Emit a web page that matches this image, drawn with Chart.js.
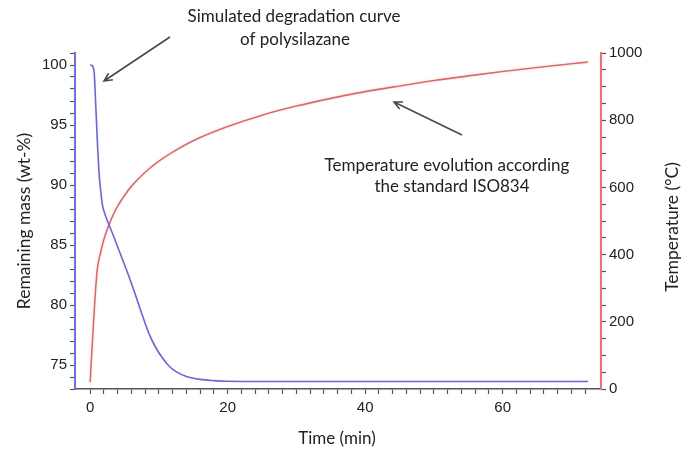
<!DOCTYPE html>
<html>
<head>
<meta charset="utf-8">
<script src="https://cdn.jsdelivr.net/npm/chart.js@4.4.1/dist/chart.umd.min.js"></script>
<style>
  html, body { margin: 0; padding: 0; background: #fff; }
  #wrap { width: 694px; height: 455px; }
</style>
</head>
<body>
<div id="wrap"><canvas id="tgaChart" width="694" height="455"></canvas></div>
<script>
// mass loss of the polysilazane (wt-%) against time (min)
const massTime = [0, 0.3, 0.5, 0.6, 0.8, 1.0, 1.3, 1.6, 1.8, 2.2, 2.8, 3.5, 4.5, 5.5, 6.5, 7.5, 8.5, 9.5, 10.5, 11.5, 12.5, 14, 16, 18, 20, 25, 30, 40, 50, 60, 72.4];
const massValues = [100, 99.95, 99.7, 99.3, 96.9, 94.3, 91.0, 89.2, 88.3, 87.5, 86.6, 85.6, 84.1, 82.6, 81.0, 79.3, 77.7, 76.5, 75.6, 74.9, 74.45, 74.05, 73.8, 73.7, 73.65, 73.63, 73.63, 73.63, 73.63, 73.63, 73.63];

// furnace temperature (°C) against time (min)
const tempTime = [0, 0.5, 1, 1.5, 2, 3, 4, 5, 6, 8, 10, 12, 15, 20, 25, 30, 35, 40, 45, 50, 55, 60, 65, 70, 72.4];
const tempValues = [20, 200, 349, 404, 445, 502, 544, 576, 603, 645, 678, 705, 739, 781, 815, 842, 865, 885, 902, 918, 932, 945, 957, 968, 973];

const timeLabels = [0, 20, 40, 60];
const massLabels = [75, 80, 85, 90, 95, 100];
const tempLabels = [0, 200, 400, 600, 800, 1000];

const BLUE = '#6262ff';
const RED = '#ff5a5a';
const tickFont = { family: '"Liberation Sans", Arial, sans-serif', size: 15 };
const textFont = '"Lato", "Open Sans", sans-serif';

function toPoints(xs, ys) {
  return xs.map((x, i) => ({ x: x, y: ys[i] }));
}

// keep only the round tick positions (drops the min/max ends chart.js adds)
function roundTicks(step) {
  return (scale) => {
    scale.ticks = scale.ticks.filter(t => {
      const q = t.value / step;
      return Math.abs(q - Math.round(q)) < 1e-6;
    });
  };
}

function drawArrow(ctx, x1, y1, x2, y2) {
  const ang = Math.atan2(y2 - y1, x2 - x1);
  ctx.save();
  ctx.strokeStyle = '#4a4a4a';
  ctx.lineWidth = 1.6;
  ctx.beginPath();
  ctx.moveTo(x1, y1);
  ctx.lineTo(x2, y2);
  ctx.moveTo(x2 - 9 * Math.cos(ang - 0.45), y2 - 9 * Math.sin(ang - 0.45));
  ctx.lineTo(x2, y2);
  ctx.lineTo(x2 - 9 * Math.cos(ang + 0.45), y2 - 9 * Math.sin(ang + 0.45));
  ctx.stroke();
  ctx.restore();
}

const notes = {
  id: 'notes',
  afterDraw(chart) {
    const ctx = chart.ctx;
    ctx.save();
    ctx.fillStyle = '#222';
    ctx.textAlign = 'center';
    ctx.textBaseline = 'middle';
    ctx.font = '17px ' + textFont;
    ctx.fillText('Simulated degradation curve', 294, 17);
    ctx.fillText('of polysilazane', 295, 40);
    ctx.fillText('Temperature evolution according', 447, 166);
    ctx.fillText('the standard ISO834', 452, 187);
    ctx.fillText('Time (min)', 337, 439);

    // axis titles, both read bottom to top
    ctx.font = '17.5px ' + textFont;
    ctx.save();
    ctx.translate(24, 221);
    ctx.rotate(-Math.PI / 2);
    ctx.fillText('Remaining mass (wt-%)', 0, 0);
    ctx.restore();
    ctx.save();
    ctx.translate(672, 227);
    ctx.rotate(-Math.PI / 2);
    ctx.fillText('Temperature (°C)', 0, 0);
    ctx.restore();
    ctx.restore();

    drawArrow(ctx, 170, 37, 104, 81);
    drawArrow(ctx, 462, 135, 394, 102);
  }
};

new Chart(document.getElementById('tgaChart'), {
  type: 'line',
  data: {
    datasets: [
      {
        label: 'Remaining mass',
        data: toPoints(massTime, massValues),
        yAxisID: 'y',
        borderColor: BLUE,
        borderWidth: 1.6,
        pointRadius: 0,
        cubicInterpolationMode: 'monotone'
      },
      {
        label: 'Temperature',
        data: toPoints(tempTime, tempValues),
        yAxisID: 'y1',
        borderColor: RED,
        borderWidth: 1.6,
        pointRadius: 0,
        cubicInterpolationMode: 'monotone'
      }
    ]
  },
  options: {
    responsive: false,
    animation: false,
    devicePixelRatio: 1,
    layout: { padding: { top: 53, left: 0, right: 0, bottom: 0 } },
    plugins: {
      legend: { display: false },
      tooltip: { enabled: false }
    },
    scales: {
      x: {
        type: 'linear',
        position: 'bottom',
        min: -2.2,
        max: 74.3,
        afterBuildTicks: roundTicks(2),
        afterFit: (s) => { s.height = 66; },
        ticks: {
          stepSize: 2,
          autoSkip: false,
          maxRotation: 0,
          padding: 5,
          color: '#222',
          font: tickFont,
          callback: (v) => timeLabels.includes(v) ? String(v) : ''
        },
        grid: { drawOnChartArea: false, tickLength: 5, tickColor: '#555', tickWidth: 1.2 },
        border: { color: '#555', width: 1.5 }
      },
      y: {
        position: 'left',
        min: 73,
        max: 101,
        afterBuildTicks: roundTicks(1),
        afterFit: (s) => { s.width = 75; },
        ticks: {
          stepSize: 1,
          autoSkip: false,
          padding: 3,
          color: '#222',
          font: tickFont,
          callback: (v) => massLabels.includes(v) ? String(v) : ''
        },
        grid: { drawOnChartArea: false, tickLength: 5, tickColor: '#555', tickWidth: 1.2 },
        border: { color: '#6c6cff', width: 2 }
      },
      y1: {
        position: 'right',
        min: 0,
        max: 1000,
        afterBuildTicks: roundTicks(50),
        afterFit: (s) => { s.width = 93; },
        ticks: {
          stepSize: 50,
          autoSkip: false,
          padding: 3,
          color: '#222',
          font: tickFont,
          callback: (v) => tempLabels.includes(v) ? String(v) : ''
        },
        grid: { drawOnChartArea: false, tickLength: 5, tickColor: '#555', tickWidth: 1.2 },
        border: { color: '#ff6a6a', width: 2 }
      }
    }
  },
  plugins: [notes]
});
</script>
</body>
</html>
